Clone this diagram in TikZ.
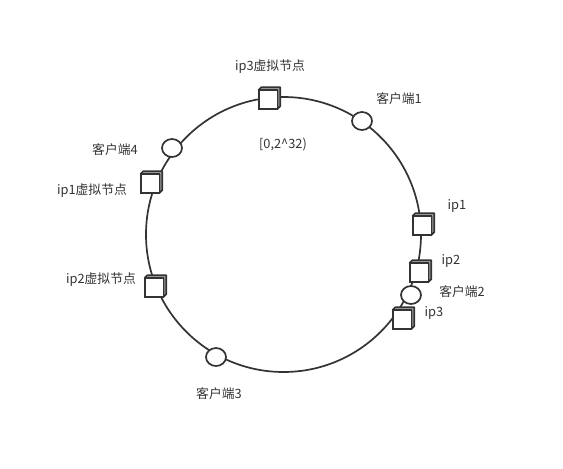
\documentclass[tikz,border=0pt]{standalone}
\usepackage{fontspec}
\setmainfont{Noto Sans CJK SC}
\usetikzlibrary{shapes.geometric}
\definecolor{dk}{HTML}{333333}
\begin{document}
\begin{tikzpicture}[x=1pt,y=-1pt,
  lbl/.style={text=dk, font=\fontsize{12.8}{15}\selectfont, inner sep=0},
  client/.style={ellipse, draw=dk, line width=1.7, fill=white, minimum width=20, minimum height=18, inner sep=0},
  cubebox/.style={draw=dk, line width=1.9, fill=white, minimum size=17, inner sep=0},
  depth/.style={draw=dk, line width=1.6, fill=gray!70, line join=round}]
\useasboundingbox (0,0) rectangle (563,469);
\node[circle, draw=dk, line width=1.7, minimum size=275, inner sep=0] (ring) at (283.5,234.5) {};
% cubes
\node[cubebox] (v3) at (268,99.5) {};
\node[cubebox] (v1) at (150,183.5) {};
\node[cubebox] (v2) at (154,287.5) {};
\node[cubebox] (p1) at (422,225.5) {};
\node[cubebox] (p2) at (419,272.5) {};
\node[cubebox] (p3) at (402,319.5) {};
\foreach \n in {v3,v1,v2,p1,p2,p3}{
  \filldraw[depth] (\n.north west) -- ++(2.8,-2.8) -| ([shift={(2.8,-2.8)}]\n.south east) -- (\n.south east) -- (\n.north east) -- cycle;
  \draw[draw=dk, line width=1.9, fill=white] (\n.north west) rectangle (\n.south east);
}
% clients
\node[client] (c1) at (362,121) {};
\node[client] (c4) at (172,148) {};
\node[client] (c2) at (411,295) {};
\node[client] (c3) at (216,357) {};
% labels
\node[lbl] (t1) at (270,67) {ip3虚拟节点};
\node[lbl] (t2) at (399,99) {客户端1};
\node[lbl] (t3) at (283,145) {[0,2\^{}32)};
\node[lbl] (t4) at (115,150) {客户端4};
\node[lbl] (t5) at (92,191) {ip1虚拟节点};
\node[lbl] (t6) at (457,206) {ip1};
\node[lbl] (t7) at (451,261) {ip2};
\node[lbl] (t8) at (462,292) {客户端2};
\node[lbl] (t9) at (434,313) {ip3};
\node[lbl] (t10) at (101,280) {ip2虚拟节点};
\node[lbl] (t11) at (219,394) {客户端3};
\end{tikzpicture}
\end{document}
